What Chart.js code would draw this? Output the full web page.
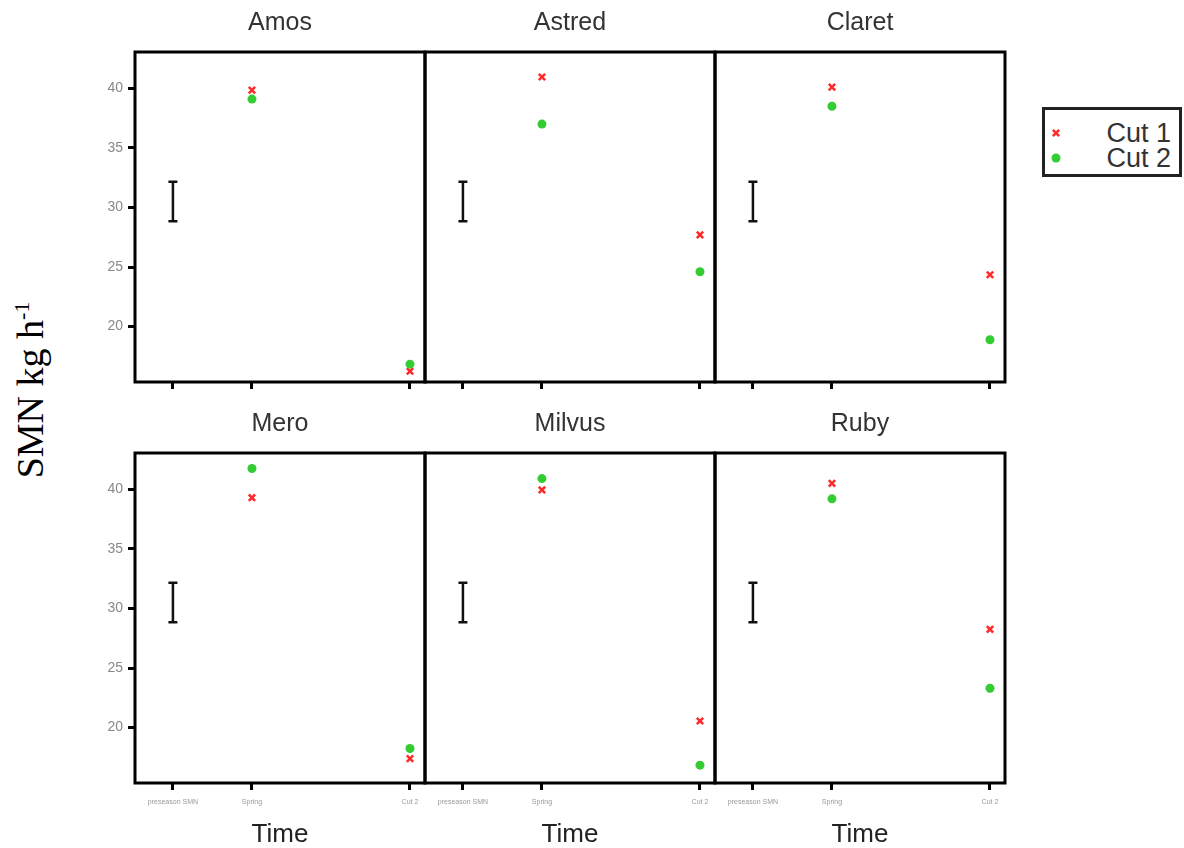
<!DOCTYPE html>
<html>
<head>
<meta charset="utf-8">
<script src="https://cdn.jsdelivr.net/npm/chart.js@4.4.1/dist/chart.umd.min.js"></script>
<style>
body { margin:0; background:#fff; width:1184px; height:848px; position:relative; overflow:hidden; font-family:"Liberation Sans", Arial, sans-serif; }
canvas.panel { position:absolute; }
#ytitle { position:absolute; left:30px; top:390px; transform:translate(-50%,-50%) rotate(-90deg); font-family:"Liberation Serif", serif; font-size:38px; white-space:nowrap; color:#000; }
#ytitle sup { font-size:22px; }
#legend { position:absolute; left:1042px; top:107px; width:134px; height:64px; border:3px solid #222; box-sizing:content-box; padding:0; }
#legend .lrow { position:absolute; left:0; right:0; height:25px; }
#legend canvas { position:absolute; left:3px; top:4px; }
#legend span { position:absolute; right:8px; top:0; font-size:27px; line-height:25px; color:#333; }
</style>
</head>
<body>
<div id="ytitle">SMN kg h<sup>-1</sup></div>
<div id="legend"></div>
<script>
// varieties, one panel each (2 rows x 3 cols)
const varieties = ["Amos", "Astred", "Claret", "Mero", "Milvus", "Ruby"];
const seriesNames = ["Cut 1", "Cut 2"];
const seriesColors = ["#ff2a2a", "#33cc33"];
const seriesStyles = ["crossRot", "circle"];

// sampling times where cuts were measured
const sampleTimes = [1, 3];
const cut1 = [[39.85, 16.25], [40.95, 27.7], [40.1, 24.35], [39.3, 17.4], [39.95, 20.55], [40.5, 28.25]];
const cut2 = [[39.1, 16.85], [37.0, 24.6], [38.5, 18.9], [41.75, 18.25], [40.9, 16.85], [39.2, 23.3]];

// LSD bar drawn at the first time point
const lsdTime = 0;
const lsdBar = [28.85, 32.15];

const xTickValues = [0, 1, 3];
const xTickLabels = ["preseason SMN", "Spring", "Cut 2"];
const yTickValues = [20, 25, 30, 35, 40];
const xMin = -0.48, xMax = 3.19;
const yMin = 15.35, yMax = 43.05;

// panel placement on the page
const colLeft = [135, 425, 715];
const PANEL_W = 290, PANEL_H = 330;
const rowTop = [52, 453];

const panelDeco = {
    id: 'panelDeco',
    beforeDatasetsDraw(chart) {
        const {ctx, scales} = chart;
        const x = scales.x.getPixelForValue(lsdTime);
        const y1 = scales.y.getPixelForValue(lsdBar[0]);
        const y2 = scales.y.getPixelForValue(lsdBar[1]);
        ctx.save();
        ctx.strokeStyle = "#111";
        ctx.lineWidth = 2.5;
        ctx.beginPath();
        ctx.moveTo(x, y1); ctx.lineTo(x, y2);
        ctx.moveTo(x - 4.5, y1); ctx.lineTo(x + 4.5, y1);
        ctx.moveTo(x - 4.5, y2); ctx.lineTo(x + 4.5, y2);
        ctx.stroke();
        ctx.restore();
    },
    afterDraw(chart, args, opts) {
        const {ctx, chartArea: a} = chart;
        ctx.save();
        ctx.strokeStyle = "#000";
        ctx.lineWidth = 3;
        ctx.strokeRect(a.left, a.top, a.right - a.left, a.bottom - a.top);
        ctx.fillStyle = "#333";
        ctx.font = "25px 'Liberation Sans', Arial, sans-serif";
        ctx.textAlign = "center";
        ctx.textBaseline = "middle";
        ctx.fillText(opts.title, (a.left + a.right) / 2, a.top - 29);
        ctx.restore();
    }
};

function makePanel(i) {
    const row = Math.floor(i / 3), col = i % 3;
    const bottomRow = row === 1, leftCol = col === 0;
    const padTop = bottomRow ? 53 : 52;
    const xHeight = bottomRow ? 65 : 40;
    const canvas = document.createElement('canvas');
    canvas.className = "panel";
    canvas.width = 60 + PANEL_W + 60;
    canvas.height = padTop + PANEL_H + xHeight;
    canvas.style.left = (colLeft[col] - 60) + "px";
    canvas.style.top = (rowTop[row] - padTop) + "px";
    document.body.appendChild(canvas);

    new Chart(canvas, {
        type: 'scatter',
        data: {
            datasets: [
                {
                    label: seriesNames[0],
                    data: sampleTimes.map((t, j) => ({x: t, y: cut1[i][j]})),
                    pointStyle: seriesStyles[0],
                    pointRadius: 4.5,
                    borderWidth: 2.5,
                    borderColor: seriesColors[0],
                    backgroundColor: seriesColors[0],
                    order: 1
                },
                {
                    label: seriesNames[1],
                    data: sampleTimes.map((t, j) => ({x: t, y: cut2[i][j]})),
                    pointStyle: seriesStyles[1],
                    pointRadius: 4.5,
                    borderWidth: 0,
                    borderColor: seriesColors[1],
                    backgroundColor: seriesColors[1],
                    order: 0
                }
            ]
        },
        options: {
            responsive: false,
            animation: false,
            events: [],
            layout: { padding: { top: padTop, right: 60, left: 0, bottom: 0 } },
            scales: {
                x: {
                    type: 'linear',
                    min: xMin,
                    max: xMax,
                    afterBuildTicks: s => { s.ticks = xTickValues.map(v => ({value: v})); },
                    afterFit: s => { s.height = xHeight; },
                    grid: { display: true, drawOnChartArea: false, drawTicks: true, tickLength: 7, tickWidth: 3, tickColor: "#000" },
                    border: { display: false },
                    ticks: {
                        autoSkip: false,
                        maxRotation: 0,
                        padding: 8,
                        color: "#999",
                        font: { size: 7 },
                        callback: (v, idx) => bottomRow ? xTickLabels[idx] : ""
                    },
                    title: {
                        display: bottomRow,
                        text: "Time",
                        color: "#222",
                        font: { size: 26, lineHeight: 1.0 },
                        padding: 0
                    }
                },
                y: {
                    min: yMin,
                    max: yMax,
                    afterBuildTicks: s => { s.ticks = yTickValues.map(v => ({value: v})); },
                    afterFit: s => { s.width = 60; },
                    grid: { display: leftCol, drawOnChartArea: false, drawTicks: true, tickLength: 7, tickWidth: 3, tickColor: "#000" },
                    border: { display: false },
                    ticks: { display: leftCol, padding: 5, color: "#888", font: { size: 14 } }
                }
            },
            plugins: {
                legend: { display: false },
                tooltip: { enabled: false },
                panelDeco: { title: varieties[i] }
            }
        },
        plugins: [panelDeco]
    });
}

for (let i = 0; i < varieties.length; i++) makePanel(i);

// legend
const legendEl = document.getElementById('legend');
seriesNames.forEach((name, k) => {
    const row = document.createElement('div');
    row.className = "lrow";
    row.style.top = (11 + k * 25) + "px";
    const mk = document.createElement('canvas');
    mk.width = 16; mk.height = 16;
    const mctx = mk.getContext('2d');
    mctx.strokeStyle = seriesColors[k];
    mctx.fillStyle = seriesColors[k];
    mctx.lineWidth = 2.5;
    Chart.helpers.drawPoint(mctx, {pointStyle: seriesStyles[k], radius: 4.5, borderWidth: k === 0 ? 2.5 : 0, rotation: 0}, 8, 8);
    const tx = document.createElement('span');
    tx.textContent = name;
    row.appendChild(mk);
    row.appendChild(tx);
    legendEl.appendChild(row);
});
</script>
</body>
</html>
